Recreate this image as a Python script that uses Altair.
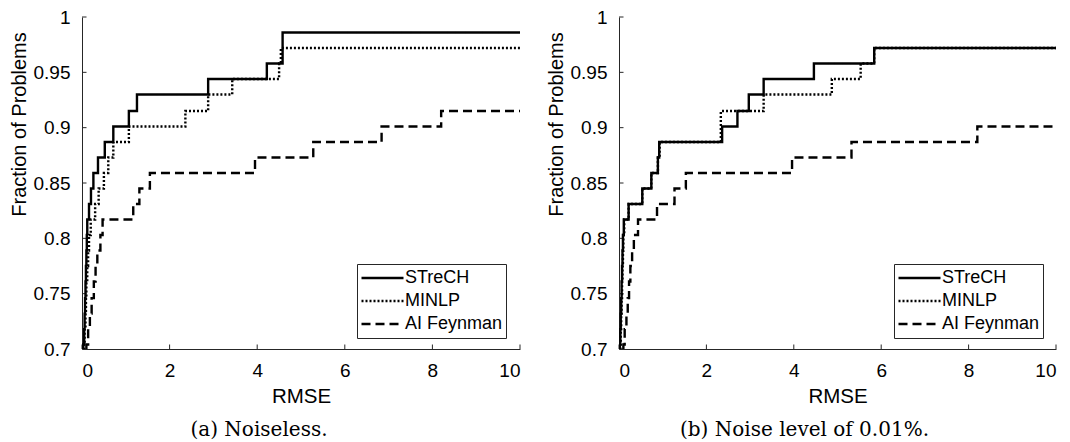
import altair as alt
import pandas as pd

series_names = ["STreCH", "MINLP", "AI Feynman"]
x_ticks = [0, 2, 4, 6, 8, 10]
y_ticks = [0.7, 0.75, 0.8, 0.85, 0.9, 0.95, 1.0]

# ---- Panel (a): Noiseless ----
a_strech_x = [0, 0.03, 0.05, 0.06, 0.07, 0.08, 0.09, 0.10, 0.11, 0.12, 0.16, 0.205, 0.26, 0.365, 0.52, 0.715, 1.07, 1.255, 2.88, 4.22, 4.58, 10]
a_strech_y = [0.690, 0.704, 0.718, 0.732, 0.746, 0.761, 0.775, 0.789, 0.803, 0.817, 0.831, 0.845, 0.859, 0.873, 0.887, 0.901, 0.915, 0.930, 0.944, 0.958, 0.986, 0.986]

a_minlp_x = [0, 0.04, 0.06, 0.08, 0.09, 0.10, 0.12, 0.14, 0.16, 0.20, 0.30, 0.38, 0.50, 0.60, 0.715, 1.07, 2.36, 2.88, 3.43, 4.50, 4.54, 10]
a_minlp_y = [0.690, 0.704, 0.718, 0.732, 0.746, 0.761, 0.775, 0.789, 0.803, 0.817, 0.831, 0.845, 0.859, 0.873, 0.887, 0.901, 0.915, 0.930, 0.944, 0.958, 0.972, 0.972]

a_aif_x = [0, 0.10, 0.14, 0.18, 0.22, 0.27, 0.31, 0.35, 0.42, 0.47, 1.17, 1.31, 1.55, 3.95, 5.28, 6.84, 8.2, 10]
a_aif_y = [0.690, 0.704, 0.718, 0.732, 0.746, 0.761, 0.775, 0.789, 0.803, 0.817, 0.831, 0.845, 0.859, 0.873, 0.887, 0.901, 0.915, 0.915]

# ---- Panel (b): Noise level of 0.01% ----
b_strech_x = [0, 0.02, 0.03, 0.04, 0.05, 0.06, 0.07, 0.08, 0.09, 0.11, 0.22, 0.533, 0.74, 0.89, 0.92, 2.36, 2.71, 2.97, 3.31, 4.46, 5.84, 10]
b_strech_y = [0.690, 0.704, 0.718, 0.732, 0.746, 0.761, 0.775, 0.789, 0.803, 0.817, 0.831, 0.845, 0.859, 0.873, 0.887, 0.901, 0.915, 0.930, 0.944, 0.958, 0.972, 0.972]

b_minlp_x = [0, 0.03, 0.04, 0.05, 0.06, 0.07, 0.08, 0.09, 0.10, 0.12, 0.22, 0.533, 0.74, 0.89, 0.93, 2.33, 3.31, 4.87, 5.53, 5.84, 10]
b_minlp_y = [0.690, 0.704, 0.718, 0.732, 0.746, 0.761, 0.775, 0.789, 0.803, 0.817, 0.831, 0.845, 0.859, 0.873, 0.887, 0.915, 0.930, 0.944, 0.958, 0.972, 0.972]

b_aif_x = [0, 0.10, 0.13, 0.17, 0.20, 0.23, 0.26, 0.30, 0.34, 0.435, 0.87, 1.27, 1.53, 3.96, 5.32, 8.2, 10]
b_aif_y = [0.690, 0.704, 0.718, 0.732, 0.746, 0.761, 0.775, 0.789, 0.803, 0.817, 0.831, 0.845, 0.859, 0.873, 0.887, 0.901, 0.901]

SANS = "Liberation Sans"
SERIF = "DejaVu Serif"
AXC = "#262626"
H = 332


def frame(parts):
    rows = []
    for name, xs, ys in parts:
        for i, (xv, yv) in enumerate(zip(xs, ys)):
            rows.append({"x": xv, "y": yv, "series": name, "i": i})
    return pd.DataFrame(rows)


def panel(df, caption, dx, width):
    xscale = alt.Scale(domain=[0, 10], nice=False, zero=False)
    yscale = alt.Scale(domain=[0.7, 1.0], nice=False, zero=False)
    xaxis = alt.Axis(values=x_ticks, title="RMSE", ticks=False, grid=False,
                     labelPadding=12, titlePadding=6, domainColor=AXC, domainWidth=1,
                     labelFont=SANS, labelFontSize=19, labelColor="black",
                     titleFont=SANS, titleFontSize=20.5, titleFontWeight="normal", titleColor="black")
    yaxis = alt.Axis(values=y_ticks, format="~g", title="Fraction of Problems", ticks=False, grid=False,
                     labelPadding=12, domainColor=AXC, domainWidth=1,
                     labelFont=SANS, labelFontSize=19, labelColor="black",
                     titleFont=SANS, titleFontSize=20, titleFontWeight="normal", titleColor="black",
                     titleX=-57, titleY=107, titleBaseline="alphabetic")
    xt = alt.Chart(pd.DataFrame({"x": x_ticks})).mark_rule(color=AXC, strokeWidth=1).encode(
        x=alt.X("x:Q", scale=xscale, axis=xaxis),
        y=alt.value(H), y2=alt.value(H - 4.5))
    yt = alt.Chart(pd.DataFrame({"y": y_ticks})).mark_rule(color=AXC, strokeWidth=1).encode(
        y=alt.Y("y:Q", scale=yscale, axis=yaxis),
        x=alt.value(0), x2=alt.value(4.5))
    lines = alt.Chart(df).mark_line(interpolate="step-after", clip=True, strokeWidth=2.4, color="black").encode(
        x=alt.X("x:Q", scale=xscale, axis=xaxis),
        y=alt.Y("y:Q", scale=yscale, axis=yaxis),
        order=alt.Order("i:Q"),
        strokeDash=alt.StrokeDash(
            "series:N",
            scale=alt.Scale(domain=series_names, range=[[1, 0], [2, 2], [9, 5]]),
            legend=alt.Legend(title=None, orient="none", legendX=275, legendY=247,
                              fillColor="white", strokeColor=AXC, padding=3, cornerRadius=0,
                              symbolType="stroke", symbolSize=1764, symbolStrokeWidth=2.4,
                              symbolStrokeColor="black", symbolOffset=0,
                              labelFont=SANS, labelFontSize=18, labelColor="black", labelOffset=0,
                              clipHeight=22, rowPadding=1)))
    return alt.layer(xt, yt, lines).properties(
        width=width, height=H,
        title=alt.TitleParams(text=caption, orient="bottom", font=SERIF, fontSize=20,
                              fontWeight="normal", color="black", dx=dx, offset=13))


df_a = frame([("STreCH", a_strech_x, a_strech_y), ("MINLP", a_minlp_x, a_minlp_y), ("AI Feynman", a_aif_x, a_aif_y)])
df_b = frame([("STreCH", b_strech_x, b_strech_y), ("MINLP", b_minlp_x, b_minlp_y), ("AI Feynman", b_aif_x, b_aif_y)])

pa = panel(df_a, "(a) Noiseless.", -42, 438)
pb = panel(df_b, "(b) Noise level of 0.01%.", -33, 437)

chart = alt.hconcat(pa, pb, spacing=24).resolve_legend(strokeDash="independent").configure_view(
    stroke=None).properties(background="white", padding={"left": 0, "top": 0, "right": 0, "bottom": 0})

chart.save("out.html", embed_options={"renderer": "svg", "actions": False})
